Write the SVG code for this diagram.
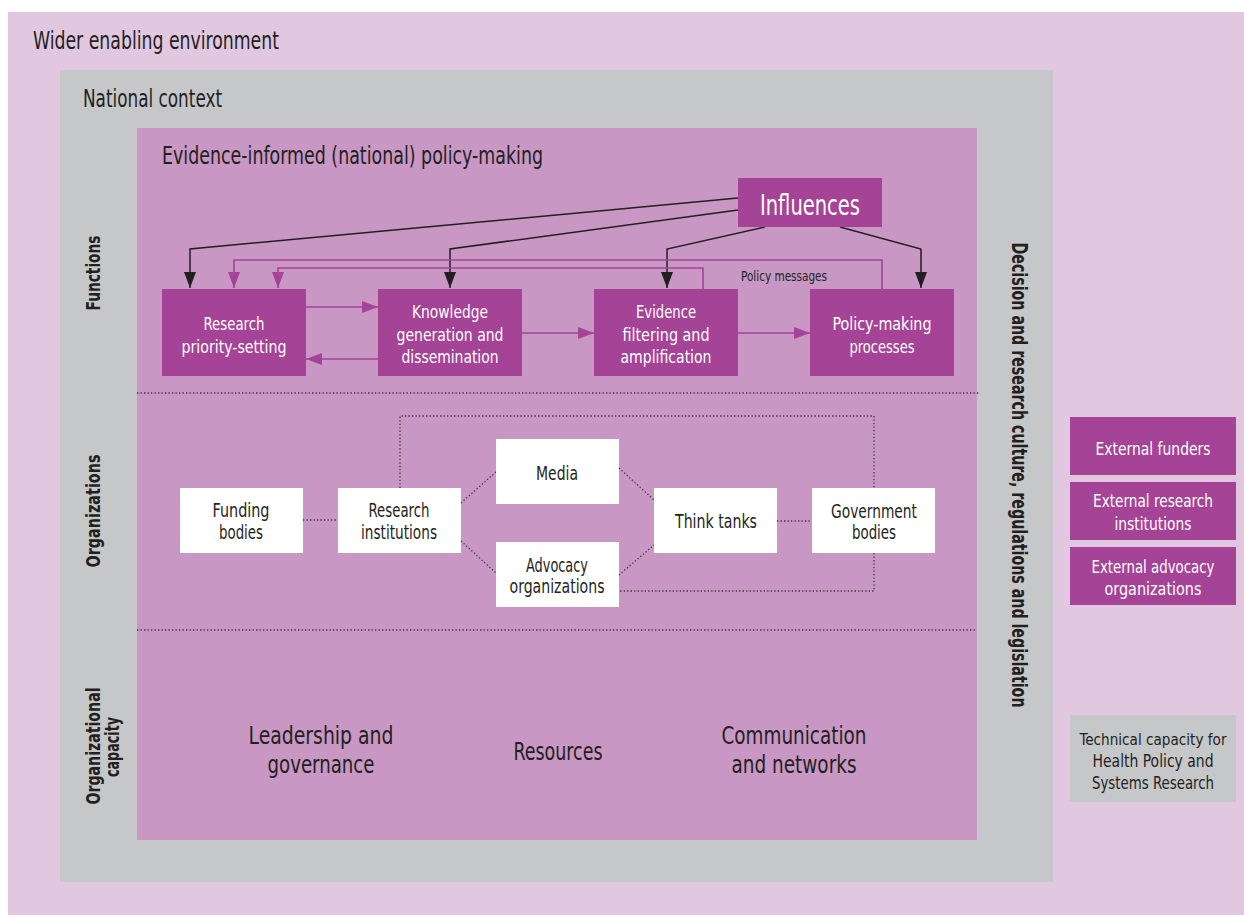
<svg xmlns="http://www.w3.org/2000/svg" width="1244" height="915" viewBox="0 0 1244 915">
<defs>
<style>
text { font-family: "Liberation Sans Narrow","DejaVu Sans Condensed","DejaVu Sans",sans-serif; }
.dk { fill:#231F20; }
.wt { fill:#FFFFFF; }
.c { text-anchor:middle; }
.b { font-weight:bold; }
.pbox { fill:#A54397; }
.wbox { fill:#FFFFFF; }
.gbox { fill:#C6C7C9; }
.blk { fill:none; stroke:#231F20; stroke-width:1.5; }
.pur { fill:none; stroke:#A54397; stroke-width:1.6; }
.dot { fill:none; stroke:#3C3236; stroke-width:1.3; stroke-dasharray:1.3 2.2; }
.f16 { font-size:16px; }
.f17 { font-size:17px; }
.f18 { font-size:18px; }
.f19 { font-size:19px; }
.f24 { font-size:24px; }
</style>
<marker id="ab" markerUnits="userSpaceOnUse" markerWidth="12" markerHeight="16" refX="6" refY="16" orient="0" viewBox="0 0 12 16">
<path d="M0,0 L12,0 L6,16 z" fill="#231F20"/>
</marker>
<marker id="ap" markerUnits="userSpaceOnUse" markerWidth="16" markerHeight="12" refX="16" refY="6" orient="auto" viewBox="0 0 16 12">
<path d="M0,0 L16,6 L0,12 z" fill="#A54397"/>
</marker>
</defs>

<g id="backgrounds">
<rect x="8" y="12" width="1236" height="903" fill="#E1C7E0"/>
<rect x="60" y="70" width="993" height="812" fill="#C6C7C9"/>
<rect x="137" y="128" width="840" height="712" fill="#C897C4"/>
<line class="dot" x1="137" y1="393" x2="979" y2="393"/>
<line class="dot" x1="137" y1="630" x2="977" y2="630"/>
</g>

<g id="labels">
<text class="dk f24" x="33" y="49" textLength="246" lengthAdjust="spacingAndGlyphs">Wider enabling environment</text>
<text class="dk f24" x="83" y="107" textLength="139" lengthAdjust="spacingAndGlyphs">National context</text>
<text class="dk f24" x="162" y="164" textLength="381" lengthAdjust="spacingAndGlyphs">Evidence-informed (national) policy-making</text>
<text class="dk b c" style="font-size:20px" transform="translate(100,273) rotate(-90)" textLength="75" lengthAdjust="spacingAndGlyphs">Functions</text>
<text class="dk b c" style="font-size:20px" transform="translate(100,511) rotate(-90)" textLength="113" lengthAdjust="spacingAndGlyphs">Organizations</text>
<text class="dk b c" style="font-size:20px" transform="translate(100,746) rotate(-90)" textLength="117" lengthAdjust="spacingAndGlyphs">Organizational</text>
<text class="dk b c" style="font-size:20px" transform="translate(119,747) rotate(-90)" textLength="60" lengthAdjust="spacingAndGlyphs">capacity</text>
<text class="dk b c" style="font-size:21px" transform="translate(1012,475) rotate(90)" textLength="465" lengthAdjust="spacingAndGlyphs">Decision and research culture, regulations and legislation</text>
<text class="dk f24 c" x="321" y="744" textLength="145" lengthAdjust="spacingAndGlyphs">Leadership and</text>
<text class="dk f24 c" x="321" y="773" textLength="107" lengthAdjust="spacingAndGlyphs">governance</text>
<text class="dk f24 c" x="558" y="760" textLength="89" lengthAdjust="spacingAndGlyphs">Resources</text>
<text class="dk f24 c" x="794" y="744" textLength="145" lengthAdjust="spacingAndGlyphs">Communication</text>
<text class="dk f24 c" x="794" y="773" textLength="125" lengthAdjust="spacingAndGlyphs">and networks</text>
<text class="dk c" style="font-size:14px" x="784" y="281" textLength="86" lengthAdjust="spacingAndGlyphs">Policy messages</text>
</g>

<g id="connectors">
<path class="blk" d="M738,198 L190,249 L190,288" marker-end="url(#ab)"/>
<path class="blk" d="M738,210 L450,249 L450,288" marker-end="url(#ab)"/>
<path class="blk" d="M765,227 L667,249 L667,288" marker-end="url(#ab)"/>
<path class="blk" d="M840,227 L921,249 L921,288" marker-end="url(#ab)"/>
<path class="pur" d="M882,289 L882,260 L234,260 L234,288" marker-end="url(#ap)"/>
<path class="pur" d="M703,289 L703,268 L278,268 L278,288" marker-end="url(#ap)"/>
<path class="pur" d="M306,307 L378,307" marker-end="url(#ap)"/>
<path class="pur" d="M378,359 L306,359" marker-end="url(#ap)"/>
<path class="pur" d="M522,333 L594,333" marker-end="url(#ap)"/>
<path class="pur" d="M738,333 L810,333" marker-end="url(#ap)"/>
<path class="dot" d="M303,520 L338,520"/>
<path class="dot" d="M461,503 L496,472"/>
<path class="dot" d="M461,541 L496,573"/>
<path class="dot" d="M619,468 L654,500"/>
<path class="dot" d="M619,575 L654,545"/>
<path class="dot" d="M777,521 L812,521"/>
<path class="dot" d="M400,488 L400,416 L874,416 L874,488"/>
<path class="dot" d="M874,553 L874,591 L619,591"/>
</g>

<g id="influences">
<rect class="pbox" x="738" y="178" width="144" height="49"/>
<text class="wt c" style="font-size:29px" x="810" y="215" textLength="100" lengthAdjust="spacingAndGlyphs">Influences</text>
</g>
<g id="research-priority">
<rect class="pbox" x="162" y="289" width="144" height="87"/>
<text class="wt c f18" x="234" y="330" textLength="61" lengthAdjust="spacingAndGlyphs">Research</text>
<text class="wt c f18" x="234" y="353" textLength="105" lengthAdjust="spacingAndGlyphs">priority-setting</text>
</g>
<g id="knowledge">
<rect class="pbox" x="378" y="289" width="144" height="87"/>
<text class="wt c f18" x="450" y="318" textLength="76" lengthAdjust="spacingAndGlyphs">Knowledge</text>
<text class="wt c f18" x="450" y="341" textLength="107" lengthAdjust="spacingAndGlyphs">generation and</text>
<text class="wt c f18" x="450" y="363" textLength="97" lengthAdjust="spacingAndGlyphs">dissemination</text>
</g>
<g id="evidence">
<rect class="pbox" x="594" y="289" width="144" height="87"/>
<text class="wt c f18" x="666" y="318" textLength="60" lengthAdjust="spacingAndGlyphs">Evidence</text>
<text class="wt c f18" x="666" y="341" textLength="87" lengthAdjust="spacingAndGlyphs">filtering and</text>
<text class="wt c f18" x="666" y="363" textLength="91" lengthAdjust="spacingAndGlyphs">amplification</text>
</g>
<g id="policy-making">
<rect class="pbox" x="810" y="289" width="144" height="87"/>
<text class="wt c f18" x="882" y="330" textLength="99" lengthAdjust="spacingAndGlyphs">Policy-making</text>
<text class="wt c f18" x="882" y="353" textLength="65" lengthAdjust="spacingAndGlyphs">processes</text>
</g>

<g id="funding-bodies">
<rect class="wbox" x="180" y="488" width="123" height="65"/>
<text class="dk c f19" x="241" y="517" textLength="57" lengthAdjust="spacingAndGlyphs">Funding</text>
<text class="dk c f19" x="241" y="539" textLength="44" lengthAdjust="spacingAndGlyphs">bodies</text>
</g>
<g id="research-institutions">
<rect class="wbox" x="338" y="488" width="123" height="65"/>
<text class="dk c f19" x="399" y="517" textLength="61" lengthAdjust="spacingAndGlyphs">Research</text>
<text class="dk c f19" x="399" y="539" textLength="76" lengthAdjust="spacingAndGlyphs">institutions</text>
</g>
<g id="media">
<rect class="wbox" x="496" y="439" width="123" height="65"/>
<text class="dk c f19" x="557" y="480" textLength="42" lengthAdjust="spacingAndGlyphs">Media</text>
</g>
<g id="advocacy">
<rect class="wbox" x="496" y="542" width="123" height="65"/>
<text class="dk c f19" x="557" y="572" textLength="62" lengthAdjust="spacingAndGlyphs">Advocacy</text>
<text class="dk c f19" x="557" y="593" textLength="95" lengthAdjust="spacingAndGlyphs">organizations</text>
</g>
<g id="think-tanks">
<rect class="wbox" x="654" y="488" width="123" height="65"/>
<text class="dk c f19" x="716" y="528" textLength="82" lengthAdjust="spacingAndGlyphs">Think tanks</text>
</g>
<g id="government-bodies">
<rect class="wbox" x="812" y="488" width="123" height="65"/>
<text class="dk c f19" x="874" y="518" textLength="86" lengthAdjust="spacingAndGlyphs">Government</text>
<text class="dk c f19" x="874" y="539" textLength="44" lengthAdjust="spacingAndGlyphs">bodies</text>
</g>

<g id="external-funders">
<rect class="pbox" x="1070" y="417" width="166" height="58"/>
<text class="wt c f18" x="1153" y="455" textLength="115" lengthAdjust="spacingAndGlyphs">External funders</text>
</g>
<g id="external-research">
<rect class="pbox" x="1070" y="482" width="166" height="58"/>
<text class="wt c f18" x="1153" y="507" textLength="120" lengthAdjust="spacingAndGlyphs">External research</text>
<text class="wt c f18" x="1153" y="530" textLength="77" lengthAdjust="spacingAndGlyphs">institutions</text>
</g>
<g id="external-advocacy">
<rect class="pbox" x="1070" y="547" width="166" height="58"/>
<text class="wt c f17" x="1153" y="573" textLength="123" lengthAdjust="spacingAndGlyphs">External advocacy</text>
<text class="wt c f18" x="1153" y="595" textLength="97" lengthAdjust="spacingAndGlyphs">organizations</text>
</g>
<g id="technical-capacity">
<rect class="gbox" x="1070" y="715" width="166" height="87"/>
<text class="dk c f16" x="1153" y="745" textLength="147" lengthAdjust="spacingAndGlyphs">Technical capacity for</text>
<text class="dk c f17" x="1153" y="767" textLength="121" lengthAdjust="spacingAndGlyphs">Health Policy and</text>
<text class="dk c f17" x="1153" y="789" textLength="122" lengthAdjust="spacingAndGlyphs">Systems Research</text>
</g>
</svg>
